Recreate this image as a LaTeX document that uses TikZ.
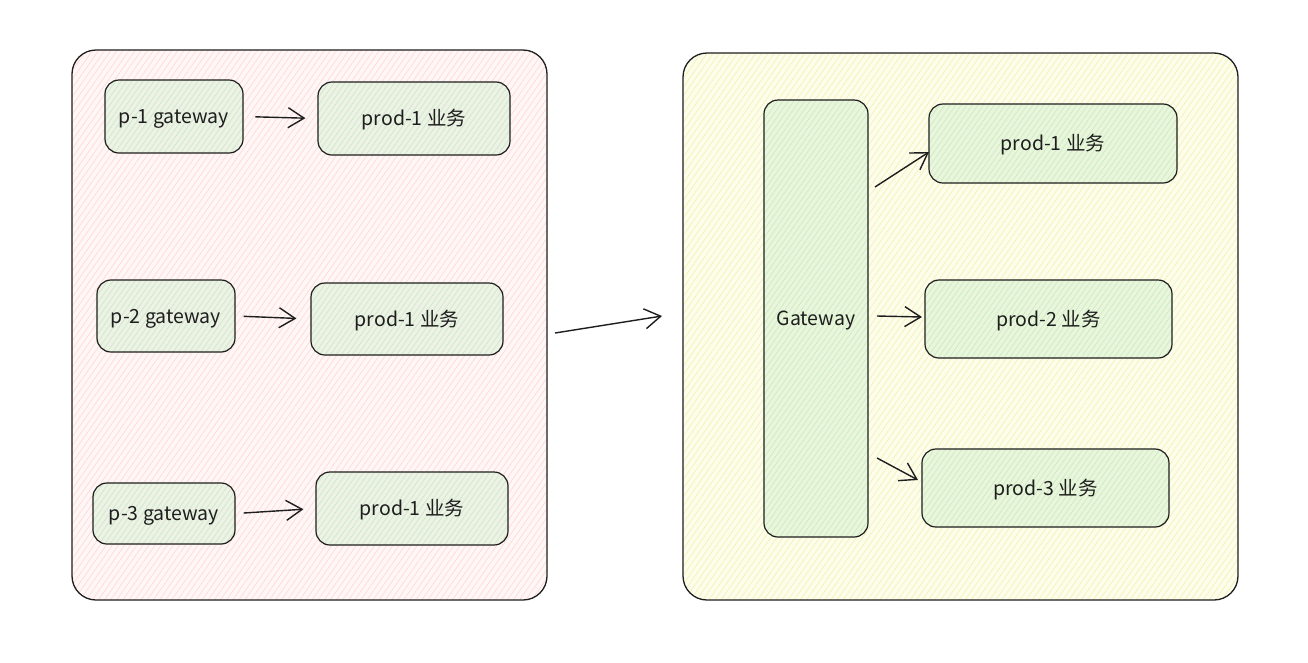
\documentclass[tikz,border=0pt]{standalone}
\usepackage{fontspec}
\setmainfont{Noto Sans CJK SC}
\usetikzlibrary{arrows.meta,patterns.meta}
\definecolor{ink}{HTML}{1E1E1E}
\definecolor{pinkbase}{HTML}{FFF6F6}
\definecolor{pinkhatch}{HTML}{FFD6D6}
\definecolor{yelbase}{HTML}{FDFDEC}
\definecolor{yelhatch}{HTML}{F5F0B0}
\definecolor{gbaseL}{HTML}{EDF1E6}
\definecolor{gbaseR}{HTML}{EAF6DC}
\definecolor{ghatch}{HTML}{C6EBC0}
\newcommand{\lbl}[1]{\raisebox{-7pt}[0pt][0pt]{#1}}
\tikzset{
  x=1pt, y=-1pt,
  container/.style={draw=ink, line width=1.3pt, rounded corners=24pt, inner sep=0pt},
  pinkbox/.style={container, preaction={fill=pinkbase}, pattern={Lines[angle=55,distance=5pt,line width=0.6pt]}, pattern color=pinkhatch},
  yelbox/.style={container, preaction={fill=yelbase}, pattern={Lines[angle=55,distance=5pt,line width=0.6pt]}, pattern color=yelhatch},
  gbox/.style={draw=ink, line width=1.2pt, rounded corners=14pt, inner sep=0pt, align=center,
    pattern={Lines[angle=55,distance=4.5pt,line width=0.6pt]}, pattern color=ghatch,
    font=\fontsize{19.5}{22}\selectfont, text=ink},
  gboxL/.style={gbox, preaction={fill=gbaseL}},
  gboxR/.style={gbox, preaction={fill=gbaseR}},
  conn/.style={draw=ink, line width=1.4pt, -{Straight Barb[length=16pt,width=20pt,line width=1.4pt]}},
}
\begin{document}
\begin{tikzpicture}
\useasboundingbox[fill=white] (0,0) rectangle (1308,662);
% containers
\node[pinkbox, minimum width=475pt, minimum height=550pt] (L) at (309.5,325) {};
\node[yelbox, minimum width=555pt, minimum height=547pt] (R) at (960.5,326.5) {};
% left side
\node[gboxL, minimum width=138pt, minimum height=73pt] (g1) at (174,116.5) {\lbl{p-1 gateway}};
\node[gboxL, minimum width=192pt, minimum height=73pt] (a1) at (414,118.5) {\lbl{prod-1 业务}};
\node[gboxL, minimum width=138pt, minimum height=72pt] (g2) at (166,316) {\lbl{p-2 gateway}};
\node[gboxL, minimum width=192pt, minimum height=72pt] (a2) at (407,319) {\lbl{prod-1 业务}};
\node[gboxL, minimum width=142pt, minimum height=61pt] (g3) at (164,513.5) {\lbl{p-3 gateway}};
\node[gboxL, minimum width=192pt, minimum height=73pt] (a3) at (412,508.5) {\lbl{prod-1 业务}};
% right side
\node[gboxR, minimum width=104pt, minimum height=437pt] (gw) at (816,318.5) {\lbl{Gateway}};
\node[gboxR, minimum width=248pt, minimum height=79pt] (b1) at (1053,143.5) {\lbl{prod-1 业务}};
\node[gboxR, minimum width=247pt, minimum height=78pt] (b2) at (1048.5,319) {\lbl{prod-2 业务}};
\node[gboxR, minimum width=247pt, minimum height=78pt] (b3) at (1045.5,488) {\lbl{prod-3 业务}};
% arrows left
\draw[conn, shorten <=12pt, shorten >=12pt] (g1.east) -- (a1.west);
\draw[conn, shorten <=8pt, shorten >=14pt] (g2.east) -- (a2.west);
\draw[conn, shorten <=8pt, shorten >=12pt] (g3.east) -- (a3.west);
% middle arrow
\coordinate (m1) at (555,333);
\coordinate (m2) at (662,316);
\draw[conn] (m1) -- (m2);
% arrows right
\coordinate (s1) at (875,187);
\coordinate (e1) at (929,152);
\coordinate (s2) at (877,316);
\coordinate (e2) at (922,317);
\coordinate (s3) at (877,458);
\coordinate (e3) at (918,480);
\draw[conn] (s1) -- (e1);
\draw[conn] (s2) -- (e2);
\draw[conn] (s3) -- (e3);
\end{tikzpicture}
\end{document}
